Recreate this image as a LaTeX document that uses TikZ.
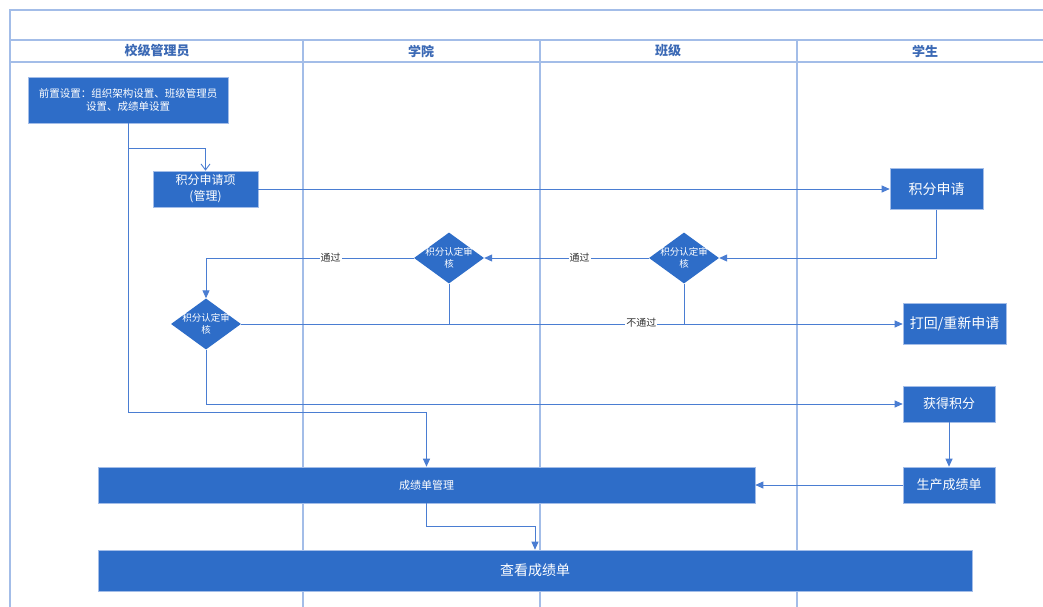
\documentclass[tikz,border=0pt]{standalone}
\usepackage{fontspec}
\setmainfont{Noto Sans CJK SC}
\usetikzlibrary{arrows.meta,shapes.geometric}
\definecolor{boxblue}{HTML}{2E6DC8}
\definecolor{lineblue}{HTML}{4A7DD2}
\definecolor{lanec}{HTML}{A3BDE8}
\definecolor{headc}{HTML}{3B69B5}
\definecolor{labc}{HTML}{333333}
\begin{document}
\begin{tikzpicture}[x=1pt,y=-1pt,
  lane/.style={draw=lanec,line width=1.1pt},
  head/.style={text=headc,font=\fontsize{13}{15}\selectfont\bfseries},
  box/.style={rectangle,fill=boxblue,draw=lanec,line width=0.6pt,text=white,inner sep=0pt,align=center},
  dia/.style={diamond,fill=boxblue,inner sep=0pt,minimum width=70pt,minimum height=51pt},
  diatext/.style={text=white,align=center,font=\fontsize{9.5}{12}\selectfont},
  conn/.style={draw=lineblue,line width=0.9pt,-{Triangle[length=8pt,width=7pt]}},
  plain/.style={draw=lineblue,line width=0.9pt},
  lab/.style={fill=white,text=labc,inner sep=1pt,font=\fontsize{10}{12}\selectfont}]
\useasboundingbox (0,0) rectangle (1043,607);
\fill[white] (0,0) rectangle (1043,607);
% swimlane frame
\draw[lane] (10,607) -- (10,10) -- (1043,10);
\draw[lane] (10,40) -- (1043,40);
\draw[lane] (10,62) -- (1043,62);
\draw[lane] (303,40) -- (303,607);
\draw[lane] (540,40) -- (540,607);
\draw[lane] (797,40) -- (797,607);
\node[head] (h1) at (157,51) {校级管理员};
\node[head] (h2) at (421,51) {学院};
\node[head] (h3) at (668,51) {班级};
\node[head] (h4) at (925,51) {学生};
% nodes
\node[box,minimum width=200pt,minimum height=46pt,font=\fontsize{10.5}{13.5}\selectfont] (pre) at (128,100) {前置设置：组织架构设置、班级管理员\\设置、成绩单设置};
\node[box,minimum width=105pt,minimum height=36pt,font=\fontsize{12}{16}\selectfont] (item) at (205.5,189) {积分申请项\\(管理)};
\node[box,minimum width=93pt,minimum height=41pt,font=\fontsize{14}{16}\selectfont] (apply) at (936.5,189) {积分申请};
\node[dia] (d2) at (684,258) {};
\node[diatext] at (d2.center) {积分认定审\\核};
\node[dia] (d1) at (449,258) {};
\node[diatext] at (d1.center) {积分认定审\\核};
\node[dia] (d3) at (206,324) {};
\node[diatext] at (d3.center) {积分认定审\\核};
\node[box,minimum width=103pt,minimum height=41pt,font=\fontsize{14}{16}\selectfont] (reject) at (954.5,324) {打回/重新申请};
\node[box,minimum width=92pt,minimum height=36pt,font=\fontsize{13}{15}\selectfont] (gain) at (949,404) {获得积分};
\node[box,minimum width=92pt,minimum height=36pt,font=\fontsize{13}{15}\selectfont] (prod) at (949,485) {生产成绩单};
\node[box,minimum width=657pt,minimum height=36pt,font=\fontsize{11}{13}\selectfont] (mgmt) at (426.5,485) {成绩单管理};
\node[box,minimum width=874pt,minimum height=41pt,font=\fontsize{14}{16}\selectfont] (view) at (535,570.5) {查看成绩单};
% connectors
\coordinate (j1) at (128,148);
\coordinate (j2) at (128,412);
\coordinate (j3) at (426.5,526);
\draw[plain,-{Straight Barb[length=6pt,width=9pt]}] (pre.south) -- (j1) -| (item.north);
\draw[conn] (pre.south) -- (j2) -| (mgmt.north);
\draw[conn] (item.east) -- (apply.west);
\draw[conn] (apply.south) |- (d2.east);
\draw[conn] (d2.west) -- node[lab,pos=0.42] {通过} (d1.east);
\draw[conn] (d1.west) -| node[lab,pos=0.2] {通过} (d3.north);
\draw[conn] (d3.east) -- node[lab,pos=0.605,yshift=1pt] {不通过} (reject.west);
\draw[plain] (d1.south) -- (d1.south |- d3.east);
\draw[plain] (d2.south) -- (d2.south |- d3.east);
\draw[conn] (d3.south) |- (gain.west);
\draw[conn] (gain.south) -- (prod.north);
\draw[conn] (prod.west) -- (mgmt.east);
\draw[conn] (mgmt.south) -- (j3) -| (view.north);
\end{tikzpicture}
\end{document}
